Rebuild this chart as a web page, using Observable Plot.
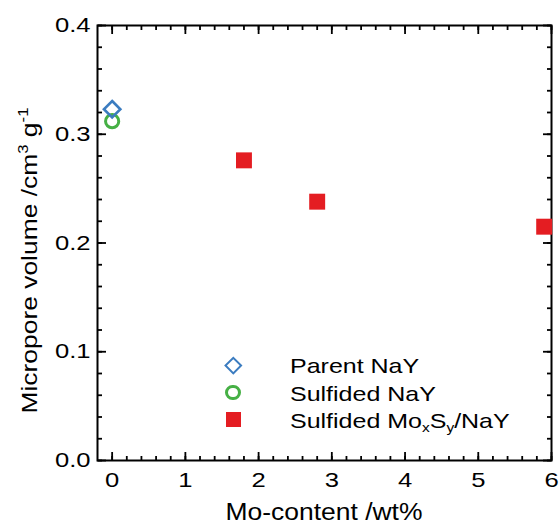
<!DOCTYPE html>
<html><head><meta charset="utf-8">
<script src="https://cdn.jsdelivr.net/npm/d3@7"></script>
<script src="https://cdn.jsdelivr.net/npm/@observablehq/plot@0.6"></script>
<style>
body{margin:0;background:#fff;}
#chart{position:relative;width:560px;height:524px;}
#legend{position:absolute;left:0;top:0;width:560px;height:524px;pointer-events:none;}
#legend .sym{position:absolute;box-sizing:border-box;}
#legend .lab{position:absolute;white-space:nowrap;font-family:'Liberation Sans',Arial,sans-serif;font-size:21px;line-height:21px;color:#000;transform-origin:0 50%;}
#legend .sub{position:relative;top:4px;font-size:13px;}
</style></head><body><div id="chart"></div>
<script>
// ---- data ----
const seriesNames = ["Parent NaY", "Sulfided NaY", "Sulfided MoxSy/NaY"];
const parentMo = [0];
const parentVol = [0.323];
const sulfidedNaYMo = [0];
const sulfidedNaYVol = [0.312];
const moxsyMo = [1.8, 2.8, 5.9];
const moxsyVol = [0.276, 0.238, 0.215];
const xTicks = [0, 1, 2, 3, 4, 5, 6];
const yTicks = [0, 0.1, 0.2, 0.3, 0.4];
const yTickLabels = ["0.0", "0.1", "0.2", "0.3", "0.4"];
const colors = {parent: "#3b7cc0", sulfided: "#46b045", moxsy: "#e41d22"};

const W = 560, H = 524;
const mL = 97, mR = 9, mT = 25, mB = 64;
const innerW = W - mL - mR, innerH = H - mT - mB;
const FONT = "'Liberation Sans', Arial, sans-serif";

const toRows = (xs, ys) => xs.map((x, i) => ({mo: x, vol: ys[i]}));
const parent = toRows(parentMo, parentVol);
const sulfNaY = toRows(sulfidedNaYMo, sulfidedNaYVol);
const moxsy = toRows(moxsyMo, moxsyVol);

const xMinor = d3.range(0, 6.001, 0.2).map(v => +v.toFixed(2));
const yMinor = d3.range(0, 0.4001, 0.02).map(v => +v.toFixed(3));

const MAJ = 8.5, MIN = 4.5, TW = 1.8;
// inward tick marks: thin filled rectangles anchored on the frame edges
const tickSym = (x0, y0, w, h) => ({draw(ctx) { ctx.rect(x0, y0, w, h); }});
const tickStyle = {r: 1, fill: "#000", stroke: "none"};
const xTickMarks = (vals, len) => [
  Plot.dot(vals, {x: d => d, frameAnchor: "bottom", symbol: tickSym(-TW / 2, -len, TW, len), ...tickStyle}),
  Plot.dot(vals, {x: d => d, frameAnchor: "top", symbol: tickSym(-TW / 2, 0, TW, len), ...tickStyle})
];
const yTickMarks = (vals, len) => [
  Plot.dot(vals, {y: d => d, frameAnchor: "left", symbol: tickSym(0, -TW / 2, len, TW), ...tickStyle}),
  Plot.dot(vals, {y: d => d, frameAnchor: "right", symbol: tickSym(-len, -TW / 2, len, TW), ...tickStyle})
];

const plot = Plot.plot({
  width: W, height: H,
  marginLeft: mL, marginRight: mR, marginTop: mT, marginBottom: mB,
  style: {fontFamily: FONT, fontSize: "21px", color: "#000", background: "#fff"},
  x: {domain: [-0.2, 6]},
  y: {domain: [0, 0.4]},
  marks: [
    Plot.frame({stroke: "#000", strokeWidth: 2, fill: "none"}),
    ...xTickMarks(xMinor, MIN),
    ...xTickMarks(xTicks, MAJ),
    ...yTickMarks(yMinor, MIN),
    ...yTickMarks(yTicks, MAJ),
    Plot.axisX(xTicks, {anchor: "bottom", tickSize: 0, tickPadding: 12, label: null, tickFormat: d => String(d)}),
    Plot.axisY(yTicks, {anchor: "left", tickSize: 0, tickPadding: 7, label: null, tickFormat: (d, i) => yTickLabels[i]}),
    Plot.dot(sulfNaY, {x: "mo", y: "vol", symbol: "circle", r: 6.6, stroke: colors.sulfided, strokeWidth: 3, fill: "none"}),
    Plot.dot(parent, {x: "mo", y: "vol", symbol: "diamond2", r: 7.4, stroke: colors.parent, strokeWidth: 2.6, fill: "none"}),
    Plot.dot(moxsy, {x: "mo", y: "vol", symbol: "square", r: 9, fill: colors.moxsy, stroke: "none"})
  ]
});
const chart = document.getElementById("chart");
chart.appendChild(plot);

const svg = d3.select(plot);
function stretch(node, f) {
  const L = node.getComputedTextLength();
  if (L > 0) {
    node.setAttribute("textLength", (L * f).toFixed(2));
    node.setAttribute("lengthAdjust", "spacingAndGlyphs");
  }
}
plot.querySelectorAll("g[aria-label$='tick label'] text").forEach(t => stretch(t, 1.22));

// axis titles
const cx = mL + innerW / 2;
const xt = svg.append("text")
  .attr("x", cx).attr("y", H - 4)
  .attr("text-anchor", "middle")
  .attr("font-family", FONT).attr("font-size", 23).attr("fill", "#000")
  .text("Mo-content /wt%");
stretch(xt.node(), 1.15);

const yt = svg.append("text")
  .attr("transform", `translate(37,${mT + innerH / 2 + 18}) rotate(-90)`)
  .attr("text-anchor", "middle")
  .attr("font-family", FONT).attr("font-size", 22).attr("fill", "#000");
yt.append("tspan").text("Micropore volume /cm");
yt.append("tspan").attr("font-size", 14).attr("dy", -9).text("3");
yt.append("tspan").attr("dy", 9).text(" g");
yt.append("tspan").attr("font-size", 14).attr("dy", -9).text("-1");
stretch(yt.node(), 1.2);

// legend (HTML overlay)
const leg = document.createElement("div");
leg.id = "legend";
chart.appendChild(leg);
const legX = 233, legY = 365, legStep = 27.3, legTextX = 290;
const symStyles = [
  {s: 12.6, css: `border:2.5px solid ${colors.parent};transform:rotate(45deg);`},
  {s: 15.4, css: `border:3px solid ${colors.sulfided};border-radius:50%;`},
  {s: 15, css: `background:${colors.moxsy};`}
];
seriesNames.forEach((name, i) => {
  const cy = legY + i * legStep;
  const st = symStyles[i];
  const sym = document.createElement("div");
  sym.className = "sym";
  sym.style.cssText = `left:${legX - st.s / 2}px;top:${cy - st.s / 2}px;width:${st.s}px;height:${st.s}px;` + st.css;
  leg.appendChild(sym);
  const lab = document.createElement("div");
  lab.className = "lab";
  lab.style.left = legTextX + "px";
  lab.style.top = (cy + 8 - 17.8) + "px";
  lab.style.transform = "scaleX(1.19)";
  if (name === "Sulfided MoxSy/NaY") {
    lab.innerHTML = 'Sulfided Mo<span class="sub">x</span>S<span class="sub">y</span>/NaY';
  } else {
    lab.textContent = name;
  }
  leg.appendChild(lab);
});
</script></body></html>
